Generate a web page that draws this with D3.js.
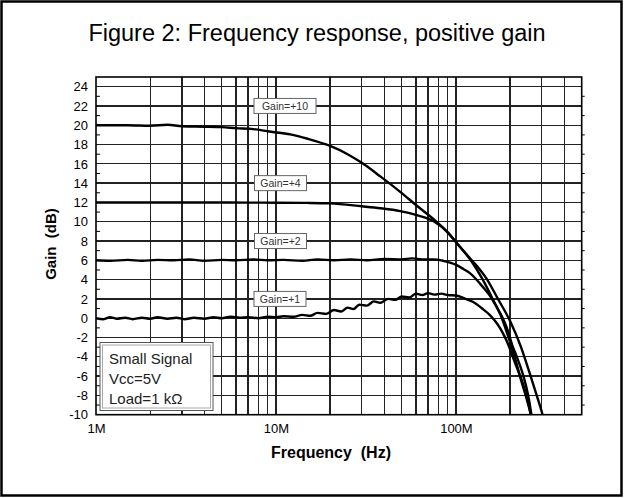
<!DOCTYPE html>
<meta charset="utf-8">
<style>
    body { margin: 0; background: #fff; }
    text { font-family: Arial, "Liberation Sans", sans-serif; }
    .tick text { font-size: 13px; fill: #000; }
    .grid line { stroke: #222; stroke-width: 1.3px; shape-rendering: crispEdges; }
    .curve { fill: none; stroke: #000; stroke-width: 2.4px; stroke-linejoin: round; }
</style>
<body>
    <svg width="625" height="498"></svg>
</body>
<script src="https://d3js.org/d3.v7.min.js"></script>
<script>

    // curves: [frequency in MHz, gain in dB]
    var gain1 = [[1,0.0],[1.1,-0.1],[1.2,0.1],[1.3,-0.05],[1.45,0.05],[1.6,-0.1],[1.8,0.05],[2,-0.05],[2.2,0.1],[2.5,-0.05],
        [2.8,0.05],[3.1,-0.1],[3.5,0.05],[4,-0.05],[4.5,0.1],[5,0],[5.6,0.15],[6.3,0.05],[7,0.1],[8,0],[9,0.15],[10,0.1],
        [11,0.2],[12.5,0.15],[14,0.35],[15.5,0.25],[17,0.55],[19,0.45],[21,0.85],[23,0.7],[25,1.1],[27,0.95],[29,1.4],
        [32,1.3],[35,1.75],[38,1.6],[42,2.0],[46,1.9],[50,2.25],[55,2.15],[60,2.55],[65,2.4],[70,2.6],[76,2.45],[83,2.55],
        [90,2.4],[100,2.35],[110,2.1],[124,1.7],[140,1.0],[155,0.3],[170,-0.6],[183,-1.6],[195,-2.7],[207,-4.0],[220,-5.3],
        [236,-6.8],[248,-8.2],[259,-9.8],[262,-10.5]];

    var gain2 = [[1,6.0],[1.2,5.95],[1.5,6.05],[1.8,5.95],[2.2,6.05],[2.7,6.0],[3.3,6.1],[4,5.95],[5,6.05],[6,6.0],
        [7.5,6.1],[9,6.0],[11,6.05],[14,5.95],[17,6.1],[21,6.0],[26,6.1],[32,6.0],[40,6.15],[50,6.1],[57,6.2],[65,6.1],
        [75,6.1],[85,5.95],[101,5.5],[110,5.1],[120,4.65],[141,3.25],[155,2.3],[168,1.2],[180,0.2],[191,-0.9],[207,-2.95],
        [218,-4.0],[228,-5.0],[238,-6.1],[246,-7.1],[255,-8.5],[263,-10],[266,-10.5]];

    var gain4 = [[1,12.0],[2,12.0],[3,12.0],[5,12.0],[7,11.98],[10,11.97],[15,11.95],[20,11.9],[30,11.6],[38,11.4],
        [49,11.1],[60,10.7],[76,10.0],[90,8.9],[101,7.8],[122,5.9],[140,4.1],[160,2.0],[180,0],[200,-2.5],[215,-4.4],
        [230,-6.4],[245,-8.1],[258,-9.6],[266,-10.5]];

    var gain10 = [[1,20.0],[1.5,20.0],[2,19.95],[2.5,20.05],[3,19.9],[4,19.85],[5,19.8],[6,19.7],[7.5,19.6],[9.2,19.35],
        [12,19.05],[15,18.6],[20,17.85],[25,17.0],[30,16.1],[38,14.7],[49,13.1],[60,11.73],[76,10.18],[90,8.9],[101,7.8],
        [122,6.03],[135,5.1],[148,4.1],[170,2.1],[200,-0.3],[230,-3.0],[257,-5.7],[280,-7.9],[303,-10],[308,-10.5]];

    var curveNames = ["Gain=+10", "Gain=+4", "Gain=+2", "Gain=+1"];
    // label box anchors: [frequency MHz of left edge, gain dB of centre]
    var labelSpots = [[7.55, 22], [7.6, 14], [7.6, 8], [7.55, 2]];

    var yTicks = d3.range(-10, 25, 2);
    var xTicks = [1, 10, 100];
    var xTickNames = ["1M", "10M", "100M"];
    var xGrid = [2,3,4,5,6,7,8,9,10,20,30,40,50,60,70,80,90,100,200,300,400];
    var legendLines = ["Small Signal", "Vcc=5V", "Load=1 k\u03A9"];

    function draw_chart() {
        var svg = d3.select("svg");

        var plotLeft = 96, plotRight = 581.7, plotTop = 77, plotBottom = 414.7;

        var x = d3.scaleLog().domain([1, 500]).range([plotLeft, plotRight]);
        var y = d3.scaleLinear().domain([-10, 25]).range([plotBottom, plotTop]);

        // outer frame
        svg.append("rect")
            .attr("x", 1.5).attr("y", 1.5)
            .attr("width", 620).attr("height", 494)
            .attr("fill", "none").attr("stroke", "#000").attr("stroke-width", 2.5);

        svg.append("text")
            .attr("x", 317).attr("y", 41)
            .attr("text-anchor", "middle")
            .style("font-size", "23.5px")
            .text("Figure 2: Frequency response, positive gain");

        var grid = svg.append("g").attr("class", "grid");
        grid.selectAll(".h")
            .data(yTicks.filter(function (d) { return d > -10; }))
            .enter().append("line")
            .attr("x1", plotLeft).attr("x2", plotRight)
            .attr("y1", function (d) { return y(d); })
            .attr("y2", function (d) { return y(d); });
        grid.selectAll(".v")
            .data(xGrid)
            .enter().append("line")
            .attr("x1", function (d) { return x(d); })
            .attr("x2", function (d) { return x(d); })
            .attr("y1", plotTop).attr("y2", plotBottom);

        // minor ticks at the odd dB values, left and right
        var minor = d3.range(-9, 25, 2);
        svg.selectAll(".mtl")
            .data(minor).enter().append("line")
            .attr("x1", plotLeft).attr("x2", plotLeft + 4)
            .attr("y1", function (d) { return y(d); })
            .attr("y2", function (d) { return y(d); })
            .attr("stroke", "#000");
        svg.selectAll(".mtr")
            .data(minor).enter().append("line")
            .attr("x1", plotRight).attr("x2", plotRight + 3)
            .attr("y1", function (d) { return y(d); })
            .attr("y2", function (d) { return y(d); })
            .attr("stroke", "#000");

        // plain hyphen for negatives, as in the original
        var yAxis = svg.append("g")
            .attr("transform", "translate(" + plotLeft + ",0)")
            .call(d3.axisLeft(y).tickValues(yTicks).tickSize(0).tickPadding(8)
                .tickFormat(function (d) { return String(d); }));
        yAxis.select(".domain").remove();
        yAxis.selectAll("text").style("font-family", "Arial, 'Liberation Sans', sans-serif");

        var xAxis = svg.append("g")
            .attr("transform", "translate(0," + plotBottom + ")")
            .call(d3.axisBottom(x).tickValues(xTicks).tickSize(0).tickPadding(9)
                .tickFormat(function (d, i) { return xTickNames[i]; }));
        xAxis.select(".domain").remove();
        xAxis.selectAll("text").style("font-family", "Arial, 'Liberation Sans', sans-serif");

        svg.append("defs").append("clipPath").attr("id", "plot")
            .append("rect")
            .attr("x", plotLeft).attr("y", plotTop)
            .attr("width", plotRight - plotLeft).attr("height", plotBottom - plotTop);

        var line = d3.line()
            .curve(d3.curveMonotoneX)
            .x(function (d) { return x(d[0]); })
            .y(function (d) { return y(d[1]); });

        svg.append("g").attr("clip-path", "url(#plot)")
            .selectAll("path")
            .data([gain10, gain4, gain2, gain1])
            .enter().append("path")
            .attr("class", "curve")
            .attr("d", line);

        // plot frame
        svg.append("rect")
            .attr("x", plotLeft).attr("y", plotTop)
            .attr("width", plotRight - plotLeft).attr("height", plotBottom - plotTop)
            .attr("fill", "none").attr("stroke", "#000").attr("stroke-width", 1.6);

        // curve labels
        var labels = svg.selectAll(".glabel")
            .data(curveNames).enter().append("g")
            .attr("class", "glabel")
            .attr("transform", function (d, i) {
                return "translate(" + x(labelSpots[i][0]) + "," + y(labelSpots[i][1]) + ")";
            });
        labels.append("rect")
            .attr("x", 0).attr("y", -7.5)
            .attr("width", function (d) { return d.length > 7 ? 62 : 52; })
            .attr("height", 15)
            .attr("fill", "#fff").attr("stroke", "#666").attr("stroke-width", 1);
        labels.append("text")
            .attr("x", function (d) { return d.length > 7 ? 31 : 26; })
            .attr("y", 4)
            .attr("text-anchor", "middle")
            .style("font-size", "10.5px").style("fill", "#333")
            .text(function (d) { return d; });

        // legend box
        var lg = svg.append("g");
        lg.append("rect")
            .attr("x", 100).attr("y", 342.5).attr("width", 113).attr("height", 68)
            .attr("fill", "#fff").attr("stroke", "#555").attr("stroke-width", 1);
        lg.append("rect")
            .attr("x", 102.5).attr("y", 345).attr("width", 108).attr("height", 63)
            .attr("fill", "none").attr("stroke", "#aaa").attr("stroke-width", 1);
        lg.selectAll("text")
            .data(legendLines).enter().append("text")
            .attr("x", 109)
            .attr("y", function (d, i) { return 364 + i * 20; })
            .style("font-size", "15px").style("fill", "#222")
            .text(function (d) { return d; });

        // axis titles
        svg.append("text")
            .attr("transform", "translate(56,244) rotate(-90)")
            .attr("text-anchor", "middle")
            .style("font-size", "15px").style("font-weight", "bold")
            .style("white-space", "pre")
            .text("Gain  (dB)");

        svg.append("text")
            .attr("x", 331).attr("y", 458)
            .attr("text-anchor", "middle")
            .style("font-size", "16px").style("font-weight", "bold")
            .style("white-space", "pre")
            .text("Frequency  (Hz)");
    }
    draw_chart();
</script>
